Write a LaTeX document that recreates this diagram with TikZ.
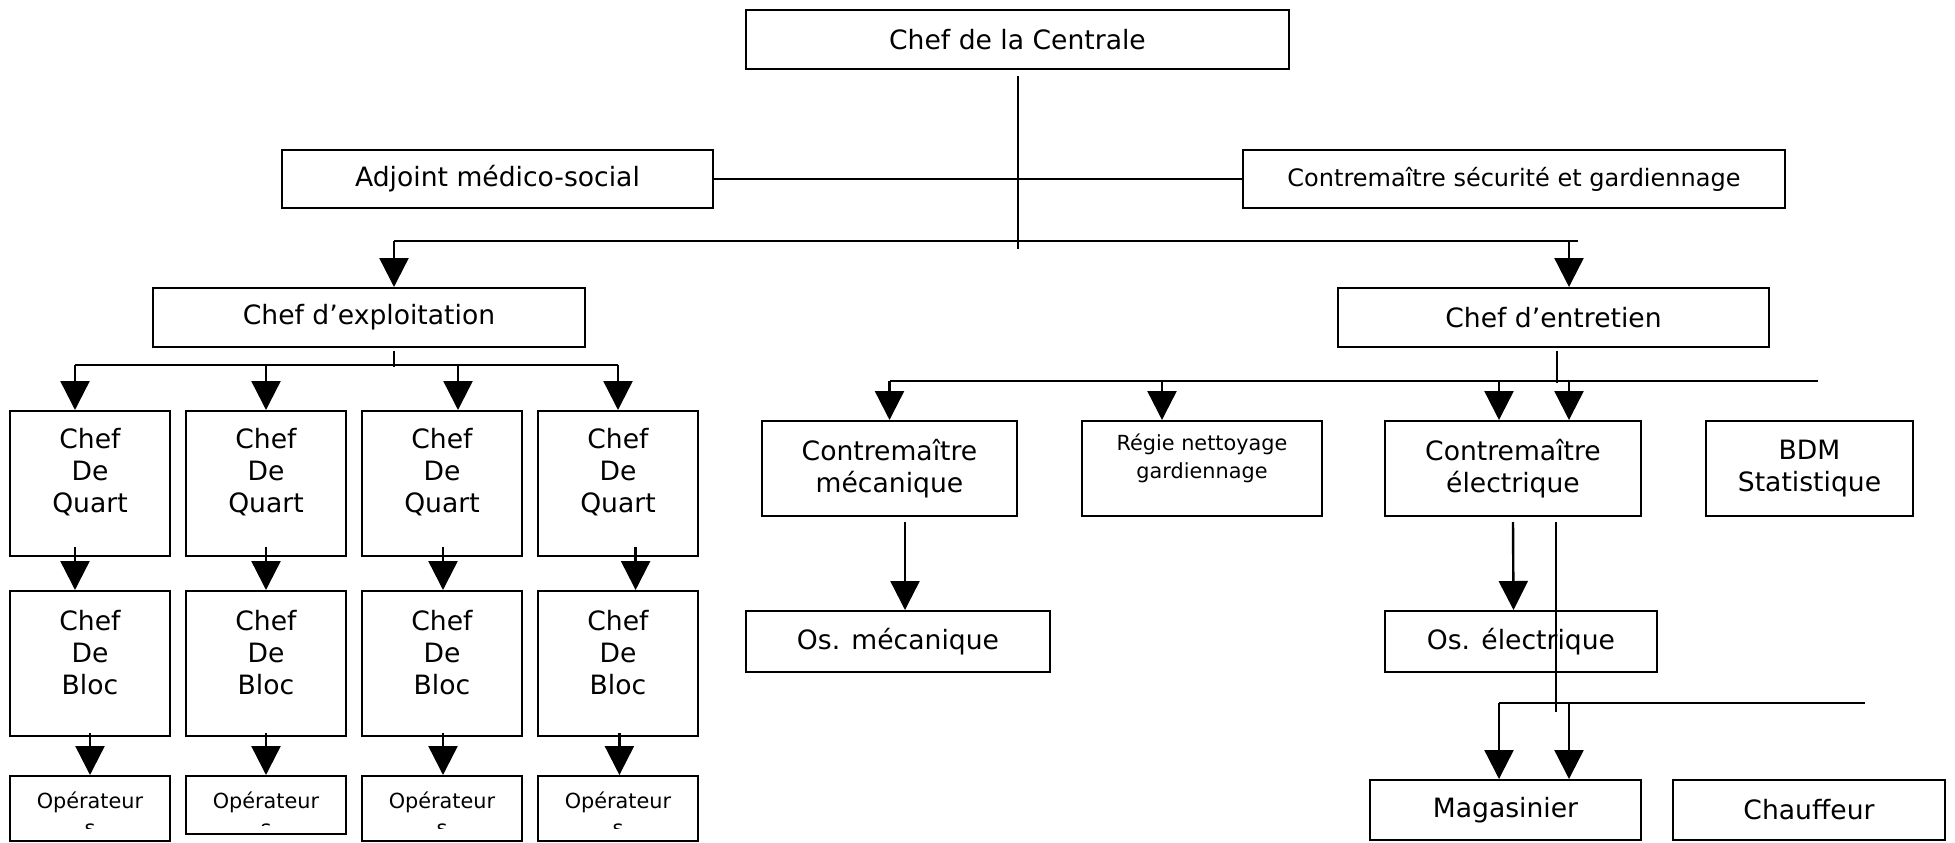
\documentclass[tikz,border=0pt]{standalone}
\usepackage{fontspec}
\setmainfont{DejaVu Sans}
\usetikzlibrary{arrows.meta, positioning}

\tikzset{
    box/.style={draw, line width=1pt, align=center, inner sep=2pt, font=\fontsize{13.3}{16}\selectfont},
    midbox/.style={box, font=\fontsize{12}{15}\selectfont},
    smallbox/.style={box, font=\fontsize{10.4}{13.7}\selectfont},
    small/.style={align=center, inner sep=2pt, font=\fontsize{10.4}{13.7}\selectfont},
    quart/.style={box, minimum width=80pt, minimum height=72.5pt},
    line/.style={line width=1pt},
    arr/.style={line width=1.2pt, -{Triangle[width=14.5pt, length=14.5pt]}},
}

\begin{document}
\begin{tikzpicture}[x=0.5pt, y=-0.5pt]
    \useasboundingbox (0,0) rectangle (1955,842);

    % direction
    \node (chef) [box, minimum width=271.5pt, minimum height=29.5pt] at (1017.5,39.5) {Chef de la Centrale};
    \node (adjoint) [box, minimum width=215.5pt, minimum height=29pt] at (497.5,179) {Adjoint médico-social};
    \node (secu) [midbox, minimum width=271pt, minimum height=29pt] at (1514,179) {Contremaître sécurité et gardiennage};
    \node (exploit) [box, minimum width=216pt, minimum height=29.5pt] at (369,317.5) {Chef d’exploitation};
    \node (entretien) [box, minimum width=215.5pt, minimum height=29.5pt] at (1553.5,317.5) {Chef d’entretien};

    % exploitation
    \node (q1) [quart, text depth=13pt] at (90,483.5) {Chef\\De\\Quart};
    \node (q2) [quart, text depth=13pt, right=7pt of q1] {Chef\\De\\Quart};
    \node (q3) [quart, text depth=13pt, right=7pt of q2] {Chef\\De\\Quart};
    \node (q4) [quart, text depth=13pt, right=7pt of q3] {Chef\\De\\Quart};
    \node (b1) [quart, text depth=11.5pt, below=16.5pt of q1] {Chef\\De\\Bloc};
    \node (b2) [quart, text depth=11.5pt, below=16.5pt of q2] {Chef\\De\\Bloc};
    \node (b3) [quart, text depth=11.5pt, below=16.5pt of q3] {Chef\\De\\Bloc};
    \node (b4) [quart, text depth=11.5pt, below=16.5pt of q4] {Chef\\De\\Bloc};
    \node (op1) [box, minimum width=80pt, minimum height=32.5pt, below=19pt of b1] {};
    \node (op2) [box, minimum width=80pt, minimum height=29pt, below=19pt of b2] {};
    \node (op3) [box, minimum width=80pt, minimum height=32.5pt, below=19pt of b3] {};
    \node (op4) [box, minimum width=80pt, minimum height=32.5pt, below=19pt of b4] {};
    \begin{scope}
        \clip (op1.north west) rectangle ([yshift=7pt]op1.south east);
        \node (opt1) [small, anchor=north] at ([yshift=-6pt]op1.north) {Opérateur\\s};
    \end{scope}
    \begin{scope}
        \clip (op2.north west) rectangle ([yshift=5pt]op2.south east);
        \node (opt2) [small, anchor=north] at ([yshift=-6pt]op2.north) {Opérateur\\s};
    \end{scope}
    \begin{scope}
        \clip (op3.north west) rectangle ([yshift=7pt]op3.south east);
        \node (opt3) [small, anchor=north] at ([yshift=-6pt]op3.north) {Opérateur\\s};
    \end{scope}
    \begin{scope}
        \clip (op4.north west) rectangle ([yshift=7pt]op4.south east);
        \node (opt4) [small, anchor=north] at ([yshift=-6pt]op4.north) {Opérateur\\s};
    \end{scope}

    % entretien
    \node (cmeca) [box, minimum width=127.5pt, minimum height=47.5pt] at (889.5,468.5) {Contremaître\\mécanique};
    \node (regie) [smallbox, text depth=12.5pt, minimum width=120pt, minimum height=47.5pt, right=31.5pt of cmeca] {Régie nettoyage\\gardiennage};
    \node (celec) [box, minimum width=128pt, minimum height=47.5pt, right=30.5pt of regie] {Contremaître\\électrique};
    \node (bdm) [box, minimum width=103.5pt, minimum height=47.5pt, right=31.5pt of celec] {BDM\\Statistique};
    \node (osmeca) [box, minimum width=152pt, minimum height=30.5pt] at (898,641.5) {Os. mécanique};
    \node (oselec) [box, minimum width=136pt, minimum height=30.5pt] at (1521,641.5) {Os. électrique};
    \node (magas) [box, minimum width=135.5pt, minimum height=30pt] at (1505.5,810) {Magasinier};
    \node (chauf) [box, minimum width=136pt, minimum height=30pt, right=15pt of magas] {Chauffeur};

    % liaisons du haut
    \draw[line] ([yshift=-3pt]chef.south) -- ([yshift=-89.5pt]chef.south);
    \draw[line] (adjoint.east) -- (secu.west);
    \draw[line] ([xshift=12.5pt, yshift=23.25pt]exploit.north) -- ([xshift=12.25pt, yshift=23.25pt]entretien.north);
    \draw[arr] ([xshift=12.5pt, yshift=23.25pt]exploit.north) -- ([xshift=12.5pt]exploit.north);
    \draw[arr] ([xshift=7.75pt, yshift=23.25pt]entretien.north) -- ([xshift=7.75pt]entretien.north);

    % liaisons exploitation
    \draw[line] ([xshift=12.5pt, yshift=-1.5pt]exploit.south) -- ([xshift=12.5pt, yshift=-9.25pt]exploit.south);
    \draw[line] ([xshift=-7.5pt, yshift=22.75pt]q1.north) -- ([yshift=22.75pt]q4.north);
    \draw[arr] ([xshift=-7.5pt, yshift=22.75pt]q1.north) -- ([xshift=-7.5pt]q1.north);
    \draw[arr] ([yshift=22.75pt]q2.north) -- (q2.north);
    \draw[arr] ([xshift=8pt, yshift=22.75pt]q3.north) -- ([xshift=8pt]q3.north);
    \draw[arr] ([yshift=22.75pt]q4.north) -- (q4.north);
    \draw[arr] ([xshift=-7.5pt, yshift=5pt]q1.south) -- ([xshift=-7.5pt]b1.north);
    \draw[arr] ([yshift=5pt]q2.south) -- (b2.north);
    \draw[arr] ([xshift=0.5pt, yshift=5pt]q3.south) -- ([xshift=0.5pt]b3.north);
    \draw[arr] ([xshift=8.8pt, yshift=5pt]q4.south) -- ([xshift=8.8pt]b4.north);
    \draw[arr] ([yshift=2pt]b1.south) -- (op1.north);
    \draw[arr] ([yshift=2pt]b2.south) -- (op2.north);
    \draw[arr] ([xshift=0.5pt, yshift=2pt]b3.south) -- ([xshift=0.5pt]op3.north);
    \draw[arr] ([xshift=0.7pt, yshift=2pt]b4.south) -- ([xshift=0.7pt]op4.north);

    % liaisons entretien
    \draw[line] ([xshift=1.75pt, yshift=-1.5pt]entretien.south) -- ([xshift=1.75pt, yshift=-17.5pt]entretien.south);
    \draw[line] ([yshift=19.5pt]cmeca.north) -- ([xshift=4.25pt, yshift=19.5pt]bdm.north);
    \draw[arr] ([yshift=19.5pt]cmeca.north) -- (cmeca.north);
    \draw[arr] ([xshift=-20pt, yshift=19.5pt]regie.north) -- ([xshift=-20pt]regie.north);
    \draw[arr] ([xshift=-7pt, yshift=19.5pt]celec.north) -- ([xshift=-7pt]celec.north);
    \draw[arr] ([xshift=28pt, yshift=19.5pt]celec.north) -- ([xshift=28pt]celec.north);
    \draw[arr] ([xshift=7.75pt, yshift=-2.5pt]cmeca.south) -- ([xshift=3.5pt]osmeca.north);
    \draw[arr] ([yshift=-2.5pt]celec.south) -- ([xshift=-3.75pt]oselec.north);
    \draw[line] ([xshift=21.5pt, yshift=-2.5pt]celec.south) -- ([xshift=21.5pt, yshift=-97.5pt]celec.south);
    \draw[line] ([xshift=-3.25pt, yshift=38pt]magas.north) -- ([xshift=28pt, yshift=38pt]chauf.north);
    \draw[arr] ([xshift=-3.25pt, yshift=38pt]magas.north) -- ([xshift=-3.25pt]magas.north);
    \draw[arr] ([xshift=31.75pt, yshift=38pt]magas.north) -- ([xshift=31.75pt]magas.north);
\end{tikzpicture}
\end{document}
